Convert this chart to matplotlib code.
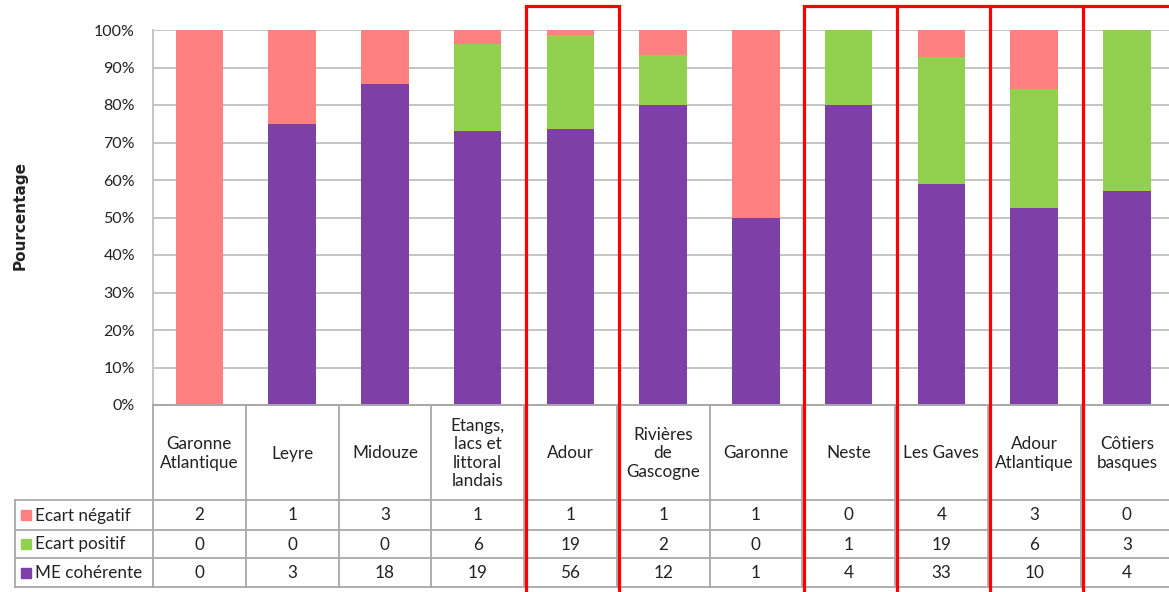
import matplotlib.pyplot as plt
import numpy as np

# ---------------- data ----------------
categories = ["Garonne\nAtlantique", "Leyre", "Midouze",
              "Etangs,\nlacs et\nlittoral\nlandais", "Adour",
              "Rivières\nde\nGascogne", "Garonne", "Neste", "Les Gaves",
              "Adour\nAtlantique", "Côtiers\nbasques"]
ecart_negatif = [2, 1, 3, 1, 1, 1, 1, 0, 4, 3, 0]
ecart_positif = [0, 0, 0, 6, 19, 2, 0, 1, 19, 6, 3]
me_coherente = [0, 3, 18, 19, 56, 12, 1, 4, 33, 10, 4]
series_labels = ["Ecart négatif", "Ecart positif", "ME cohérente"]
y_ticks = [0, 10, 20, 30, 40, 50, 60, 70, 80, 90, 100]
highlighted = [4, 7, 8, 9, 10]

# ---------------- style ----------------
C_RED = "#FF8080"
C_GREEN = "#92D050"
C_PURPLE = "#7E40A6"
GRID = "#C4C4C4"
TLINE = "#A8A8A8"
FONT = "Lato"
FS = 12.3

W, H = 1169, 592
fig = plt.figure(figsize=(W / 100, H / 100), dpi=100)

ax_left, ax_top, ax_bot = 153, 30, 405
colw = 92.75
ncol = len(categories)
ax_right = ax_left + ncol * colw

ax = fig.add_axes([ax_left / W, 1 - ax_bot / H, (ax_right - ax_left) / W,
                   (ax_bot - ax_top) / H])

neg = np.array(ecart_negatif, float)
pos = np.array(ecart_positif, float)
coh = np.array(me_coherente, float)
tot = neg + pos + coh
p_coh = coh / tot * 100
p_pos = pos / tot * 100
p_neg = neg / tot * 100
x = np.arange(ncol)
bw = 0.51
ax.bar(x, p_coh, bw, color=C_PURPLE, zorder=2, linewidth=0)
ax.bar(x, p_pos, bw, bottom=p_coh, color=C_GREEN, zorder=2, linewidth=0)
ax.bar(x, p_neg, bw, bottom=p_coh + p_pos, color=C_RED, zorder=2, linewidth=0)

ax.set_xlim(-0.5, ncol - 0.5)
ax.set_ylim(0, 100)
ax.set_yticks(y_ticks)
ax.set_yticklabels([f"{t}%" for t in y_ticks], fontsize=11.5, family=FONT,
                   color="#222222")
ax.tick_params(axis="y", length=0, pad=13)
ax.set_xticks([])
for t in y_ticks[1:]:
    ax.axhline(t, color=GRID, lw=1.4, zorder=1)
for s in ["top", "right"]:
    ax.spines[s].set_visible(False)
ax.spines["left"].set_color(GRID)
ax.spines["left"].set_linewidth(1.4)
ax.spines["bottom"].set_color(TLINE)
ax.spines["bottom"].set_linewidth(1.4)

fig.text(20 / W, 1 - 216 / H, "Pourcentage", rotation=90, ha="center",
         va="center", fontsize=11, fontweight="bold", family="DejaVu Sans",
         color="#222222")

# ---------------- overlay for table and red boxes ----------------
ov = fig.add_axes([0, 0, 1, 1], zorder=5)
ov.set_xlim(0, W)
ov.set_ylim(H, 0)
ov.axis("off")

hdr_bot = 500
row_edges = [500, 530, 558, 587]
lab_left = 15
edges = [ax_left + k * colw for k in range(ncol + 1)]

for e in edges:
    ov.plot([e, e], [ax_bot, row_edges[-1]], color=TLINE, lw=1.3)
ov.plot([lab_left, lab_left], [hdr_bot, row_edges[-1]], color=TLINE, lw=1.3)
for r in row_edges:
    ov.plot([lab_left, edges[-1]], [r, r], color=TLINE, lw=1.3)

for i, c in enumerate(categories):
    cx = (edges[i] + edges[i + 1]) / 2
    ov.text(cx, (ax_bot + hdr_bot) / 2 + 1, c, ha="center", va="center",
            fontsize=FS, family=FONT, color="#222222", linespacing=1.2)

rows = [ecart_negatif, ecart_positif, me_coherente]
colors = [C_RED, C_GREEN, C_PURPLE]
for j, (vals, lab, col) in enumerate(zip(rows, series_labels, colors)):
    cy = (row_edges[j] + row_edges[j + 1]) / 2
    ov.add_patch(plt.Rectangle((21, cy - 5), 10, 10, color=col))
    ov.text(35, cy + 0.5, lab, ha="left", va="center", fontsize=FS,
            family=FONT, color="#222222")
    for i, v in enumerate(vals):
        cx = (edges[i] + edges[i + 1]) / 2
        ov.text(cx, cy + 0.5, str(v), ha="center", va="center", fontsize=FS,
                family=FONT, color="#222222")

# red highlight boxes
RED = "#FF0000"
top_y = 5.5
lw = 2.3
done_lines = set()
for i in highlighted:
    l, r = edges[i] + 2, edges[i + 1] + 2
    for e in (l, r):
        key = round(e)
        if key not in done_lines:
            ov.plot([e, e], [top_y, H + 5], color=RED, lw=lw,
                    solid_capstyle="butt")
            done_lines.add(key)
    ov.plot([l, min(r, W + 5)], [top_y, top_y], color=RED, lw=lw,
            solid_capstyle="projecting")

fig.savefig("out.png", dpi=100)
